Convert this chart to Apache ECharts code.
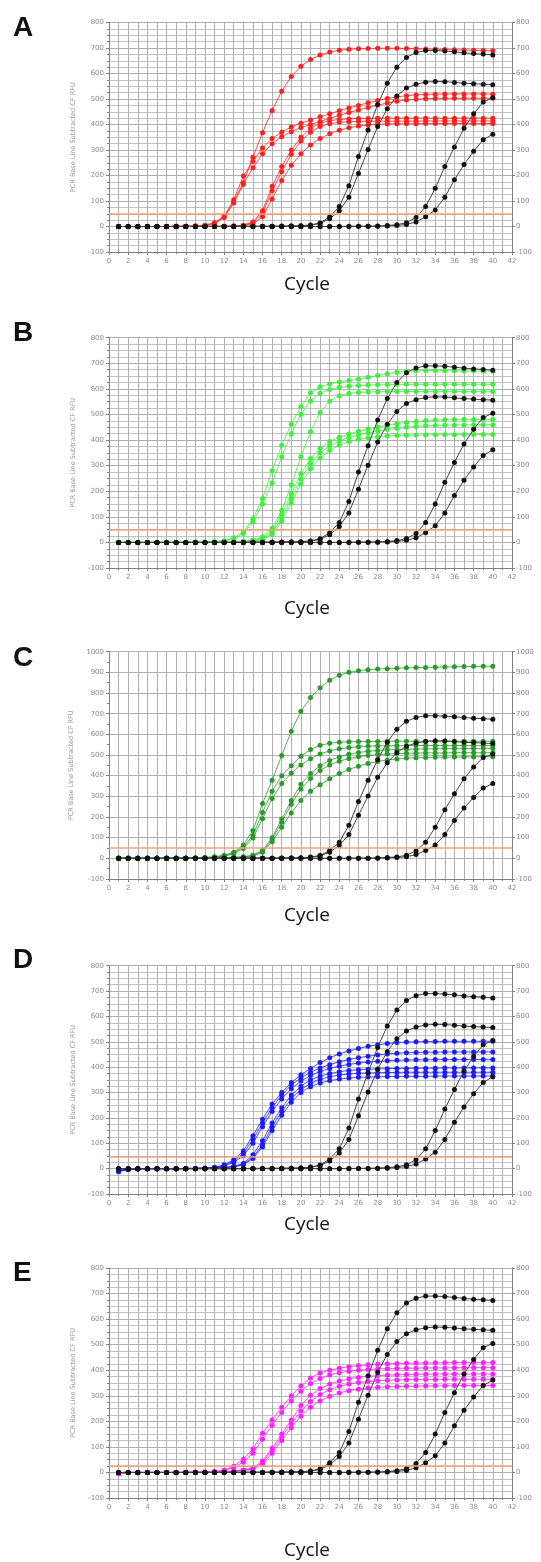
<!DOCTYPE html>
<html><head><meta charset="utf-8">
<script src="https://cdn.jsdelivr.net/npm/echarts@6/dist/echarts.min.js"></script>
<style>html,body{margin:0;padding:0;background:#fff}#c{width:541px;height:1562px}</style>
</head><body><div id="c"></div>
<script>
const cycles = [1,2,3,4,5,6,7,8,9,10,11,12,13,14,15,16,17,18,19,20,21,22,23,24,25,26,27,28,29,30,31,32,33,34,35,36,37,38,39,40];
const panelLetters = ['A','B','C','D','E'];
const yAxisName = 'PCR Base Line Subtracted CF RFU';
const xAxisTitle = 'Cycle';
const yMaxByPanel = [800, 800, 1000, 800, 800];
const thresholds = [50, 50, 50, 45, 28];

// black reference curves (same in every panel)
const black1 = [0,0,-1,0,0,0,0,0,0,0, 0,0,0,1,1,1,1,2,2,3, 6,14,38,78,160,275,378,478,562,625, 663,682,690,690,688,685,681,678,676,673];
const black2 = [0,0,0,0,0,0,0,0,0,0, 0,0,0,0,1,1,1,1,2,2, 5,12,30,62,115,208,302,392,462,512, 543,558,566,569,568,565,562,560,558,556];
const black3 = [0,0,0,0,0,0,0,0,0,0, 0,0,0,0,0,0,0,0,0,0, 0,0,0,0,1,1,1,2,4,7, 15,35,78,150,235,312,385,442,488,505];
const black4 = [0,0,0,0,0,0,0,0,0,0, 0,0,0,0,0,0,0,0,0,0, 0,0,0,0,0,1,1,1,2,4, 8,18,38,65,115,183,243,295,340,362];

// panel A (red)
const redA1 = [0,0,0,0,0,0,1,1,2,5, 15,42,98,172,272,368,455,530,588,628, 655,673,684,691,695,697,698,699,699,699, 698,697,696,695,694,693,692,691,690,689];
const redA2 = [0,0,0,0,0,0,1,1,2,4, 13,38,105,198,255,308,345,370,390,405, 418,430,442,454,465,475,485,494,502,508, 513,516,518,519,520,520,520,520,520,519];
const redA3 = [0,0,0,0,0,0,1,1,2,4, 12,35,92,165,230,285,325,352,372,388, 400,412,424,436,447,457,467,476,484,491, 496,499,501,502,503,503,503,503,503,503];
const redA4 = [0,0,0,0,0,0,0,0,0,1, 1,1,2,5,18,62,158,235,300,350, 385,405,415,420,422,424,424,425,425,425, 425,425,425,425,425,425,425,425,425,425];
const redA5 = [0,0,0,0,0,0,0,0,0,1, 1,1,2,4,15,52,140,215,283,335, 370,392,403,409,411,412,413,413,413,413, 413,413,414,414,414,414,414,414,414,414];
const redA6 = [0,0,0,0,0,0,0,0,0,0, 1,1,2,3,10,38,108,180,240,285, 320,345,364,377,387,394,398,401,402,403, 403,403,404,404,404,404,404,404,404,404];

// panel B (light green)
const greenB1 = [0,0,0,0,0,0,0,1,1,2, 3,7,18,42,92,172,280,380,462,530, 585,608,619,627,633,638,645,652,659,665, 669,671,672,672,671,671,670,670,669,669];
const greenB2 = [0,0,0,0,0,0,0,1,1,2, 3,6,15,35,80,150,232,335,425,500, 553,583,598,606,610,613,615,616,617,617, 618,618,618,618,618,618,618,618,618,618];
const greenB3 = [0,0,0,0,0,0,0,0,1,1, 1,2,2,4,9,22,55,125,225,335, 432,508,552,573,582,586,588,589,590,590, 590,590,590,590,590,590,590,590,590,590];
const greenB4 = [0,0,0,0,0,0,0,0,1,1, 1,2,2,3,6,15,45,110,190,268, 328,368,394,411,424,434,443,451,458,464, 469,473,476,478,479,480,480,480,480,480];
const greenB5 = [0,0,0,0,0,0,0,0,0,1, 1,1,2,3,5,12,38,95,172,248, 308,350,378,396,410,420,428,435,441,446, 450,453,456,457,458,459,459,460,460,460];
const greenB6 = [0,0,0,0,0,0,0,0,0,1, 1,1,2,3,4,10,32,82,155,228, 288,330,360,380,394,403,409,413,416,418, 419,420,420,421,421,421,422,422,422,422];

// panel C (dark green)
const greenC1 = [0,0,0,0,0,0,0,1,2,4, 8,15,30,65,135,265,378,498,615,712, 778,826,862,886,900,908,913,916,918,920, 922,923,924,925,926,927,928,929,929,930];
const greenC2 = [0,0,0,0,0,0,0,1,2,3, 6,12,25,55,112,222,325,400,448,494, 527,547,557,562,564,565,566,566,567,567, 567,567,567,567,567,567,567,567,567,567];
const greenC3 = [0,0,0,0,0,0,0,1,2,3, 5,10,22,48,98,192,290,362,412,452, 482,505,520,530,536,540,543,544,545,545, 545,546,546,546,546,546,546,546,546,546];
const greenC4 = [0,0,0,0,0,0,0,0,1,1, 2,3,5,8,15,40,100,190,280,358, 410,448,474,491,504,512,518,522,525,527, 528,529,530,530,531,531,531,532,532,532];
const greenC5 = [0,0,0,0,0,0,0,0,1,1, 2,3,4,6,12,35,90,175,262,335, 386,425,452,470,483,492,498,502,505,507, 508,509,510,510,510,511,511,511,511,511];
const greenC6 = [0,0,0,0,0,0,0,0,1,1, 2,2,3,5,10,30,80,150,220,280, 325,356,385,410,430,446,459,469,476,481, 485,487,488,489,490,490,491,491,492,492];

// panel D (blue)
const blueD1 = [-12,-3,0,0,0,0,0,1,1,2, 5,15,35,70,130,195,255,300,340,370, 395,418,437,452,464,474,482,488,493,497, 499,500,501,501,502,502,502,502,502,502];
const blueD2 = [-10,-2,0,0,0,0,0,1,1,2, 4,12,30,60,115,180,240,290,330,358, 380,397,410,421,430,437,443,448,452,455, 457,458,459,459,460,460,460,460,460,460];
const blueD3 = [-10,-2,0,0,0,0,0,1,1,2, 4,10,25,50,100,165,225,275,315,345, 367,383,395,404,411,416,420,423,425,427, 428,429,429,430,430,430,430,430,430,430];
const blueD4 = [-8,-2,0,0,0,0,0,0,1,1, 2,4,9,20,55,110,180,240,290,325, 350,365,375,382,387,390,392,393,394,395, 395,396,396,396,397,397,397,397,397,397];
const blueD5 = [-8,-2,0,0,0,0,0,0,1,1, 2,4,8,18,45,95,165,225,275,312, 336,352,362,369,373,376,377,378,379,379, 380,380,380,380,380,380,380,380,380,380];
const blueD6 = [-8,-2,0,0,0,0,0,0,1,1, 2,3,7,15,40,85,150,210,262,300, 323,338,347,353,357,360,361,362,363,363, 364,364,364,365,365,365,365,365,365,365];

// panel E (magenta)
const magentaE1 = [-5,0,0,0,0,0,0,1,1,2, 4,9,24,52,92,153,205,255,300,338, 370,389,400,408,414,418,421,423,425,426, 427,428,428,429,429,430,430,430,430,430];
const magentaE2 = [-5,0,0,0,0,0,0,1,1,2, 3,8,20,40,75,130,185,235,280,318, 348,368,381,390,396,400,403,405,406,407, 408,408,409,409,409,410,410,410,410,410];
const magentaE3 = [-4,0,0,0,0,0,0,0,1,1, 2,3,6,10,18,45,95,150,205,262, 302,328,346,358,366,372,376,379,381,382, 383,384,384,384,385,385,385,385,385,385];
const magentaE4 = [-4,0,0,0,0,0,0,0,1,1, 2,3,5,8,15,40,85,138,192,240, 278,305,324,337,346,352,356,359,361,362, 363,364,364,364,365,365,365,365,365,365];
const magentaE5 = [-4,0,0,0,0,0,0,0,1,1, 2,3,4,7,12,33,75,125,175,220, 255,280,298,311,320,326,330,333,335,336, 337,338,338,339,339,340,340,340,340,340];

const blackCurves = [black1, black2, black3, black4];
const panelCurves = [
  [redA1, redA2, redA3, redA4, redA5, redA6],
  [greenB1, greenB2, greenB3, greenB4, greenB5, greenB6],
  [greenC1, greenC2, greenC3, greenC4, greenC5, greenC6],
  [blueD1, blueD2, blueD3, blueD4, blueD5, blueD6],
  [magentaE1, magentaE2, magentaE3, magentaE4, magentaE5]
];

// layout / style
const panelColors = ['#ff2020', '#3cf03c', '#2a9a2a', '#1c1cff', '#ff22ff'];
const gridTops = [22.5, 337.7, 651.7, 965.7, 1268];
const gridHeights = [229.5, 230.3, 227.3, 228.3, 230];
const letterY = [30, 335, 660, 962, 1275];
const cycleY = [285, 609, 916, 1225, 1551];
const gridColor = '#b0b0b0';
const axisColor = '#808080';
const labelStyle = {fontSize: 7, color: '#8a8a8a', fontFamily: 'DejaVu Sans', formatter: v => String(v)};

const grids = [], xAxes = [], yAxes = [], series = [], graphics = [];
panelCurves.forEach((curves, i) => {
  grids.push({left: 109, width: 403, top: gridTops[i], height: gridHeights[i]});
  xAxes.push({
    type: 'value', gridIndex: i, min: 0, max: 42, interval: 2,
    axisLine: {show: true, onZero: false, lineStyle: {color: axisColor}},
    axisTick: {show: true, length: 3, lineStyle: {color: axisColor}},
    minorTick: {show: true, splitNumber: 2, length: 2, lineStyle: {color: axisColor}},
    axisLabel: Object.assign({margin: 6}, labelStyle),
    splitLine: {show: true, lineStyle: {color: gridColor, width: 1}},
    minorSplitLine: {show: true, lineStyle: {color: gridColor, width: 1}}
  });
  const ymax = yMaxByPanel[i];
  yAxes.push({
    type: 'value', gridIndex: i, min: -100, max: ymax, interval: 100, position: 'left',
    name: yAxisName, nameLocation: 'middle', nameGap: 28,
    nameTextStyle: {fontSize: 6.5, color: '#999', fontFamily: 'DejaVu Sans'},
    axisLine: {show: true, onZero: false, lineStyle: {color: axisColor}},
    axisTick: {show: true, length: 3, lineStyle: {color: axisColor}},
    minorTick: {show: true, splitNumber: i === 2 ? 2 : 4, length: 2, lineStyle: {color: axisColor}},
    axisLabel: Object.assign({margin: 5}, labelStyle),
    splitLine: {show: true, lineStyle: {color: gridColor, width: 1}},
    minorSplitLine: {show: i !== 2, lineStyle: {color: '#c2c2c2', width: 1}}
  });
  yAxes.push({
    type: 'value', gridIndex: i, min: -100, max: ymax, interval: 100, position: 'right',
    axisLine: {show: true, onZero: false, lineStyle: {color: axisColor}},
    axisTick: {show: true, length: 3, lineStyle: {color: axisColor}},
    axisLabel: Object.assign({margin: 4}, labelStyle),
    splitLine: {show: false}
  });
  const col = panelColors[i];
  curves.forEach((arr, k) => {
    const s = {
      type: 'line', xAxisIndex: i, yAxisIndex: 2 * i,
      data: cycles.map((c, j) => [c, arr[j]]),
      symbol: 'circle', symbolSize: 5, showSymbol: true,
      lineStyle: {color: col, width: 1, opacity: 0.8},
      itemStyle: {color: col},
      z: 2, animation: false, silent: true
    };
    if (k === 0) {
      s.markLine = {
        silent: true, symbol: 'none', label: {show: false}, animation: false,
        lineStyle: {color: '#f3a27c', width: 1.6, type: 'solid'},
        data: [{yAxis: thresholds[i]}]
      };
    }
    series.push(s);
  });
  blackCurves.forEach(arr => {
    series.push({
      type: 'line', xAxisIndex: i, yAxisIndex: 2 * i,
      data: cycles.map((c, j) => [c, arr[j]]),
      symbol: 'circle', symbolSize: 5, showSymbol: true,
      lineStyle: {color: '#444', width: 1},
      itemStyle: {color: '#111'},
      z: 3, animation: false, silent: true
    });
  });
  graphics.push({type: 'text', left: 13, top: letterY[i] - 16,
    style: {text: panelLetters[i], font: 'bold 28px "Liberation Sans", Arial, sans-serif', fill: '#111'}});
  graphics.push({type: 'text', x: 307, y: cycleY[i],
    style: {text: xAxisTitle, font: '19px "Open Sans", sans-serif', fill: '#111', textAlign: 'center', textVerticalAlign: 'middle'}});
});

const chart = echarts.init(document.getElementById('c'), null, {renderer: 'canvas'});
chart.setOption({
  animation: false,
  backgroundColor: '#fff',
  grid: grids, xAxis: xAxes, yAxis: yAxes, series: series, graphic: graphics
});
</script></body></html>
